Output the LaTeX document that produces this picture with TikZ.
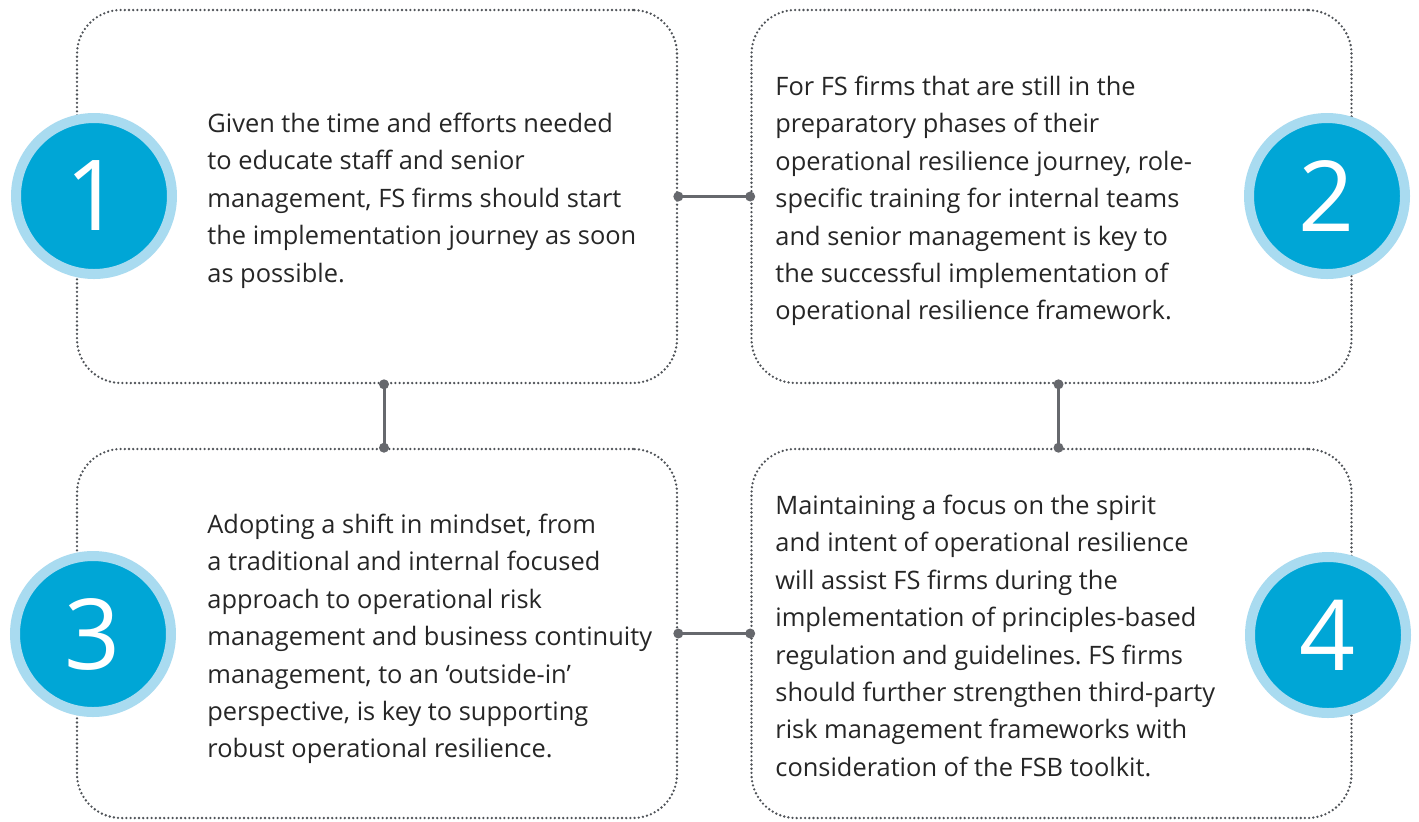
\documentclass[tikz,border=0pt]{standalone}
\usepackage{fontspec}
\setmainfont{Open Sans}
\usetikzlibrary{calc}
\definecolor{ringblue}{HTML}{A9DBF0}
\definecolor{coreblue}{HTML}{00A6D6}
\definecolor{dotgray}{HTML}{4F5358}
\definecolor{linkgray}{HTML}{66686D}
\definecolor{txt}{HTML}{262626}
\frenchspacing
\begin{document}
\begin{tikzpicture}[x=0.5pt,y=-0.5pt,
 panel/.style={draw=dotgray, line width=1.3pt, dash pattern=on 0pt off 2.1pt, line cap=round, rounded corners=22pt, minimum width=300pt, inner sep=0pt, rectangle},
 badge/.style={circle, fill=coreblue, draw=ringblue, line width=5pt, minimum size=78pt, inner sep=0pt, text=white, font=\fontsize{49}{49}\selectfont},
 body/.style={anchor=north west, inner sep=0pt, align=left, text=txt, font=\fontsize{12.7}{18.7}\selectfont},
 link/.style={draw=linkgray, line width=1.5pt},
 knob/.style={circle, fill=linkgray, inner sep=0pt, minimum size=5pt}]
\useasboundingbox (0,0) rectangle (1419,821);
% panels
\node[panel, minimum height=186.5pt] (b1) at (377,196.5) {};
\node[panel, minimum height=186.5pt] (b2) at (1051.5,196.5) {};
\node[panel, minimum height=184.5pt] (b3) at (377,633.5) {};
\node[panel, minimum height=184.5pt] (b4) at (1051.5,633.5) {};
% connectors
\coordinate (v13a) at ($(b1.south)+(7,0)$);
\coordinate (v13b) at ($(b3.north)+(7,0)$);
\coordinate (v24a) at ($(b2.south)+(7,0)$);
\coordinate (v24b) at ($(b4.north)+(7,0)$);
\draw[link] (b1.east) -- (b2.west);
\draw[link] (b3.east) -- (b4.west);
\draw[link] (v13a) -- (v13b);
\draw[link] (v24a) -- (v24b);
\node[knob] (k1) at (b1.east) {};
\node[knob] (k2) at (b2.west) {};
\node[knob] (k3) at (b3.east) {};
\node[knob] (k4) at (b4.west) {};
\node[knob] (k5) at (v13a) {};
\node[knob] (k6) at (v13b) {};
\node[knob] (k7) at (v24a) {};
\node[knob] (k8) at (v24b) {};
% badges
\node[badge] (c1) at (94,196) {1};
\node[badge] (c2) at (1327,196) {2};
\node[badge] (c3) at (93,634) {3};
\node[badge] (c4) at (1328,635) {4};
% texts
\node[body] (t1) at (207,112) {\rule{0pt}{10pt}Given the time and efforts needed\\
to educate staff and senior\\
management, FS firms should start\\
the implementation journey as soon\\
as possible.};
\node[body] (t2) at (775,75) {\rule{0pt}{10pt}For FS firms that are still in the\\
preparatory phases of their\\
operational resilience journey, role-\\
specific training for internal teams\\
and senior management is key to\\
the successful implementation of\\
operational resilience framework.};
\node[body] (t3) at (207,513) {\rule{0pt}{10pt}Adopting a shift in mindset, from\\
a traditional and internal focused\\
approach to operational risk\\
management and business continuity\\
management, to an ‘outside-in’\\
perspective, is key to supporting\\
robust operational resilience.};
\node[body] (t4) at (775,494) {\rule{0pt}{10pt}Maintaining a focus on the spirit\\
and intent of operational resilience\\
will assist FS firms during the\\
implementation of principles-based\\
regulation and guidelines. FS firms\\
should further strengthen third-party\\
risk management frameworks with\\
consideration of the FSB toolkit.};
\end{tikzpicture}
\end{document}
